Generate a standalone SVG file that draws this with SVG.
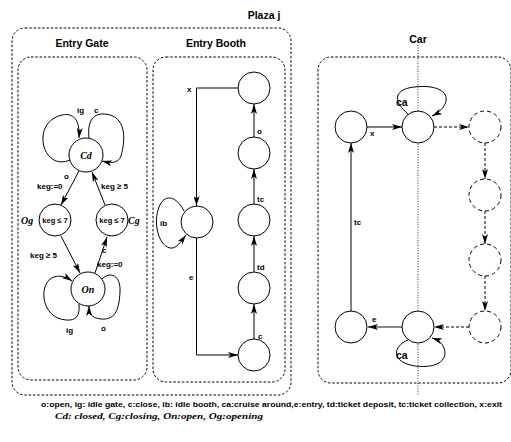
<svg xmlns="http://www.w3.org/2000/svg" width="511" height="442" viewBox="0 0 511 442">
<style>
.box{fill:none;stroke:#000;stroke-width:1;stroke-dasharray:2.5,1.8}
.node{fill:#fff;stroke:#000;stroke-width:1}
.dnode{fill:#fff;stroke:#000;stroke-width:1;stroke-dasharray:4,3}
.e{fill:none;stroke:#000;stroke-width:1;marker-end:url(#arr)}
.de{fill:none;stroke:#000;stroke-width:1;stroke-dasharray:3,2;marker-end:url(#arr)}
.lab{font-family:"Liberation Sans",Arial,sans-serif;font-weight:bold;font-size:8px;fill:#000}
.title{font-family:"Liberation Sans",Arial,sans-serif;font-weight:bold;font-size:10.5px;fill:#000;text-anchor:middle}
.st{font-family:"Liberation Serif","Times New Roman",serif;font-weight:bold;font-style:italic;font-size:10px;fill:#000}
.in{font-family:"Liberation Sans",Arial,sans-serif;font-weight:bold;font-size:7.5px;fill:#000;text-anchor:middle}
</style>
<defs>
<marker id="arr" viewBox="0 0 10 6" refX="10" refY="3" markerWidth="10" markerHeight="6" markerUnits="userSpaceOnUse" orient="auto">
<path d="M0,0 L10,3 L0,6 L2.5,3 z" fill="#000"/>
</marker>
</defs>
<rect width="511" height="442" fill="#fff"/>

<g id="frames">
<text class="title" x="264" y="19">Plaza j</text>
<rect class="box" x="12" y="28" width="279" height="367" rx="13"/>
<text class="title" x="82" y="47">Entry Gate</text>
<rect class="box" x="18" y="57" width="129" height="323" rx="13"/>
<text class="title" x="216" y="47">Entry Booth</text>
<rect class="box" x="153" y="57" width="132" height="325" rx="13"/>
<text class="title" x="418" y="43">Car</text>
<rect class="box" x="318" y="57" width="193" height="326" rx="13"/>
<line x1="418" y1="45" x2="418" y2="396" stroke="#000" stroke-width="0.8" stroke-dasharray="1,1.6"/>
</g>

<g id="connectors">
<!-- Entry Gate -->
<path class="e" d="M70,160 C42,172 30,122 62,115 C76,112 80,124 79,138"/>
<path class="e" d="M89,138 C87,120 94,113 105,114 C126,116 126,138 121,156 C118,164 110,163 102,161"/>
<path class="e" d="M79,171 L61,205"/>
<path class="e" d="M105,205 L92,172"/>
<path class="e" d="M61,236 L80,273"/>
<path class="e" d="M95,273 L107,237"/>
<path class="e" d="M79,304 C80,316 76,321 66,320 C40,318 38,282 54,277 C60,275 66,277 72,281"/>
<path class="e" d="M102,279 C110,271 121,275 120,292 C119,312 114,320 101,319 C91,318 89,313 89,306"/>
<!-- Entry Booth -->
<path class="e" d="M238,88 H196.5 V206"/>
<path class="e" d="M254,137 V104"/>
<path class="e" d="M254,204 V169"/>
<path class="e" d="M254,272 V236"/>
<path class="e" d="M254,339 V304"/>
<path class="e" d="M196.5,238 V355 H238"/>
<path class="e" d="M184,211 C178,199 168,193 161,203 C152,218 157,245 170,248 C176,249 180,243 186,235"/>
<!-- Car -->
<path class="e" d="M351,311 V143"/>
<path class="e" d="M367,127 H402"/>
<path class="de" d="M434,127 H469"/>
<path class="de" d="M485,143 V179"/>
<path class="de" d="M485,211 V244"/>
<path class="de" d="M485,276 V311"/>
<path class="de" d="M469,327 H434"/>
<path d="M402,327 H372" stroke="#666" stroke-width="1.6" fill="none"/>
<path class="e" d="M376,327 H368"/>
<path class="e" d="M408,114 C395,103 391,90 414,87 C440,84 450,94 445,104 C442,110 438,113 432,116"/>
<path class="e" d="M408,340 C393,346 390,362 415,366 C440,369 448,358 444,348 C442,343 438,340 432,338"/>
</g>

<g id="gate-Cd"><circle class="node" cx="86" cy="155" r="17"/><text class="st" x="86" y="159" text-anchor="middle">Cd</text></g>
<g id="gate-Og"><circle class="node" cx="55" cy="220" r="16"/><text class="in" x="55" y="223">keg ≤ 7</text><text class="st" x="21" y="224">Og</text></g>
<g id="gate-Cg"><circle class="node" cx="112" cy="220" r="16"/><text class="in" x="112" y="223">keg ≤ 7</text><text class="st" x="128" y="224">Cg</text></g>
<g id="gate-On"><circle class="node" cx="88" cy="289" r="17"/><text class="st" x="88" y="293" text-anchor="middle">On</text></g>

<g id="booth-1"><circle class="node" cx="254" cy="88" r="16"/></g>
<g id="booth-2"><circle class="node" cx="254" cy="153" r="16"/></g>
<g id="booth-3"><circle class="node" cx="254" cy="220" r="16"/></g>
<g id="booth-4"><circle class="node" cx="254" cy="288" r="16"/></g>
<g id="booth-5"><circle class="node" cx="254" cy="355" r="16"/></g>
<g id="booth-ib"><circle class="node" cx="197" cy="222" r="16"/></g>

<g id="car-1"><circle class="node" cx="351" cy="127" r="16"/></g>
<g id="car-2"><circle class="node" cx="418" cy="127" r="16"/></g>
<g id="car-3"><circle class="dnode" cx="485" cy="127" r="16"/></g>
<g id="car-4"><circle class="dnode" cx="485" cy="195" r="16"/></g>
<g id="car-5"><circle class="dnode" cx="485" cy="260" r="16"/></g>
<g id="car-6"><circle class="dnode" cx="485" cy="327" r="16"/></g>
<g id="car-7"><circle class="node" cx="418" cy="327" r="16"/></g>
<g id="car-8"><circle class="node" cx="351" cy="327" r="16"/></g>

<g id="labels">
<text class="lab" x="77" y="113">ig</text>
<text class="lab" x="94" y="113">c</text>
<text class="lab" x="64" y="179">o</text>
<text class="lab" x="37" y="189">keg:=0</text>
<text class="lab" x="101" y="189">keg ≥ 5</text>
<text class="lab" x="30" y="258">keg ≥ 5</text>
<text class="lab" x="102" y="253">c</text>
<text class="lab" x="97" y="267">keg:=0</text>
<text class="lab" x="66" y="333">ig</text>
<text class="lab" x="101" y="331">o</text>
<text class="lab" x="187" y="92">x</text>
<text class="lab" x="257" y="134">o</text>
<text class="lab" x="257" y="202">tc</text>
<text class="lab" x="257" y="270">td</text>
<text class="lab" x="258" y="339">c</text>
<text class="lab" x="189" y="280">e</text>
<text class="lab" x="160" y="226">ib</text>
<text class="lab" x="354" y="225">tc</text>
<text class="lab" x="370" y="136">x</text>
<text class="lab" x="372" y="322">e</text>
<text class="lab" x="396" y="106" style="font-size:10.5px">ca</text>
<text class="lab" x="396" y="359" style="font-size:10.5px">ca</text>
</g>

<g id="legend">
<text class="lab" x="41" y="407" style="font-size:7.5px" textLength="461" lengthAdjust="spacingAndGlyphs">o:open, ig: idle gate, c:close, ib: idle booth, ca:cruise around,e:entry, td:ticket deposit, tc:ticket collection, x:exit</text>
<text class="st" x="55" y="419" style="font-size:9px" textLength="208" lengthAdjust="spacingAndGlyphs">Cd: closed, Cg:closing, On:open, Og:opening</text>
</g>
</svg>
